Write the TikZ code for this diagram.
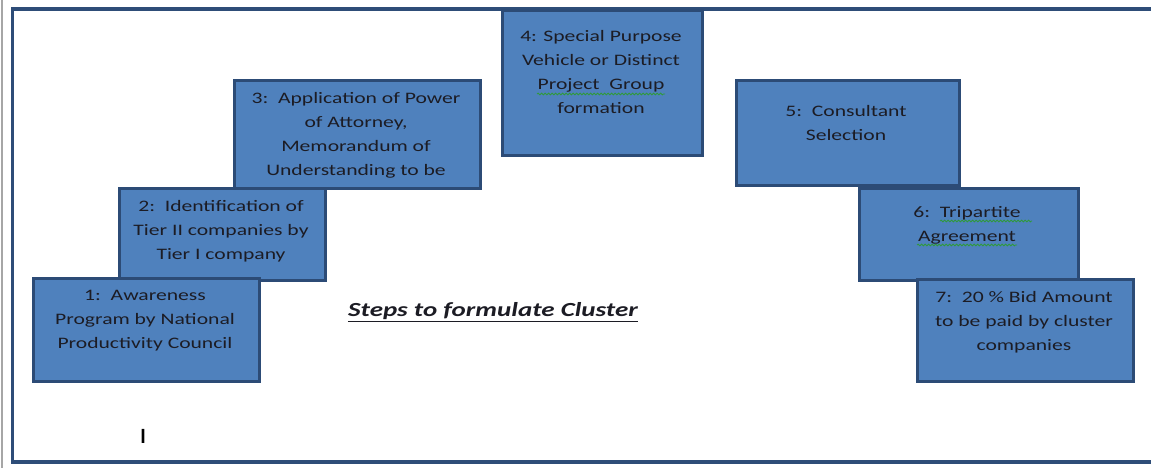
\documentclass[tikz,border=0pt]{standalone}
\usepackage{fontspec}
\setmainfont{Carlito}[FakeStretch=1.35]
\usetikzlibrary{decorations.pathmorphing}
\definecolor{boxfill}{HTML}{4F81BD}
\definecolor{boxline}{HTML}{2C4B76}
\definecolor{frameline}{HTML}{2E4D78}
\definecolor{inktext}{HTML}{1C1C24}
\definecolor{spellgreen}{HTML}{2F9A3A}
\tikzset{
  stepbox/.style={draw=boxline, fill=boxfill, line width=2.8pt, anchor=north west, inner sep=0pt},
  steptext/.style={anchor=north, align=center, inner sep=0pt, text=inktext,
    font=\fontsize{16}{24}\selectfont},
  squiggle/.style={draw=spellgreen, line width=0.8pt, decorate,
    decoration={snake, amplitude=0.9pt, segment length=3.5pt}},
}
\begin{document}
\begin{tikzpicture}[x=1pt,y=-1pt]
\useasboundingbox (0,0) rectangle (1151,468);
\clip (0,0) rectangle (1151,468);
\fill[white] (0,0) rectangle (1151,468);
% page edge and outer frame
\draw[gray!70, line width=1.5pt] (2,0) -- (2,468);
\draw[frameline, line width=3.5pt] (12.5,9) rectangle (1170,462);

% step boxes
\node[stepbox, minimum width=200pt, minimum height=145pt] (b4) at (501,9) {};
\node[stepbox, minimum width=246pt, minimum height=108pt] (b3) at (233,79) {};
\node[stepbox, minimum width=206pt, minimum height=92pt]  (b2) at (118,187) {};
\node[stepbox, minimum width=226pt, minimum height=103pt] (b1) at (32,277) {};
\node[stepbox, minimum width=223pt, minimum height=105pt] (b5) at (735,79) {};
\node[stepbox, minimum width=219pt, minimum height=92pt]  (b6) at (858,187) {};
\node[stepbox, minimum width=216pt, minimum height=102pt] (b7) at (916,278) {};

% step texts
\node[steptext] (t1) at (145,283.2) {\strut 1:\ \ Awareness\\Program by National\\Productivity Council};
\node[steptext] (t2) at (221,194.2) {\strut 2:\ \ Identification of\\Tier II companies by\\Tier I company};
\node[steptext] (t3) at (356,86.2) {\strut 3:\ \ Application of Power\\of Attorney,\\Memorandum of\\Understanding to be};
\node[steptext] (t4) at (601,24.2) {\strut 4: Special Purpose\\Vehicle or Distinct\\Project\ \ Group\\formation};
\node[steptext] (t5) at (846,99.2) {\strut 5:\ \ Consultant\\Selection};
\node[steptext] (t6) at (967,200.2) {\strut 6:\ \ Tripartite\\Agreement};
\node[steptext] (t7) at (1024,285.2) {\strut 7:\ \ 20 \% Bid Amount\\to be paid by cluster\\companies};

% spelling marks
\draw[squiggle] (537,94) -- (665,94);
\draw[squiggle] (940,221) -- (1032,221);
\draw[squiggle] (917,245) -- (1017,245);

% title
\node[anchor=base, inner sep=0pt, text=inktext, font=\fontsize{20}{24}\selectfont\bfseries\itshape] (title) at (493,316) {Steps to formulate Cluster};
\draw[inktext, line width=1.8pt] ([yshift=-5.5pt]title.base west) -- ([yshift=-5.5pt]title.base east);

% stray glyph
\node[anchor=base, inner sep=0pt, font=\fontsize{22}{24}\selectfont] (cursor) at (143,443) {I};
\end{tikzpicture}
\end{document}
